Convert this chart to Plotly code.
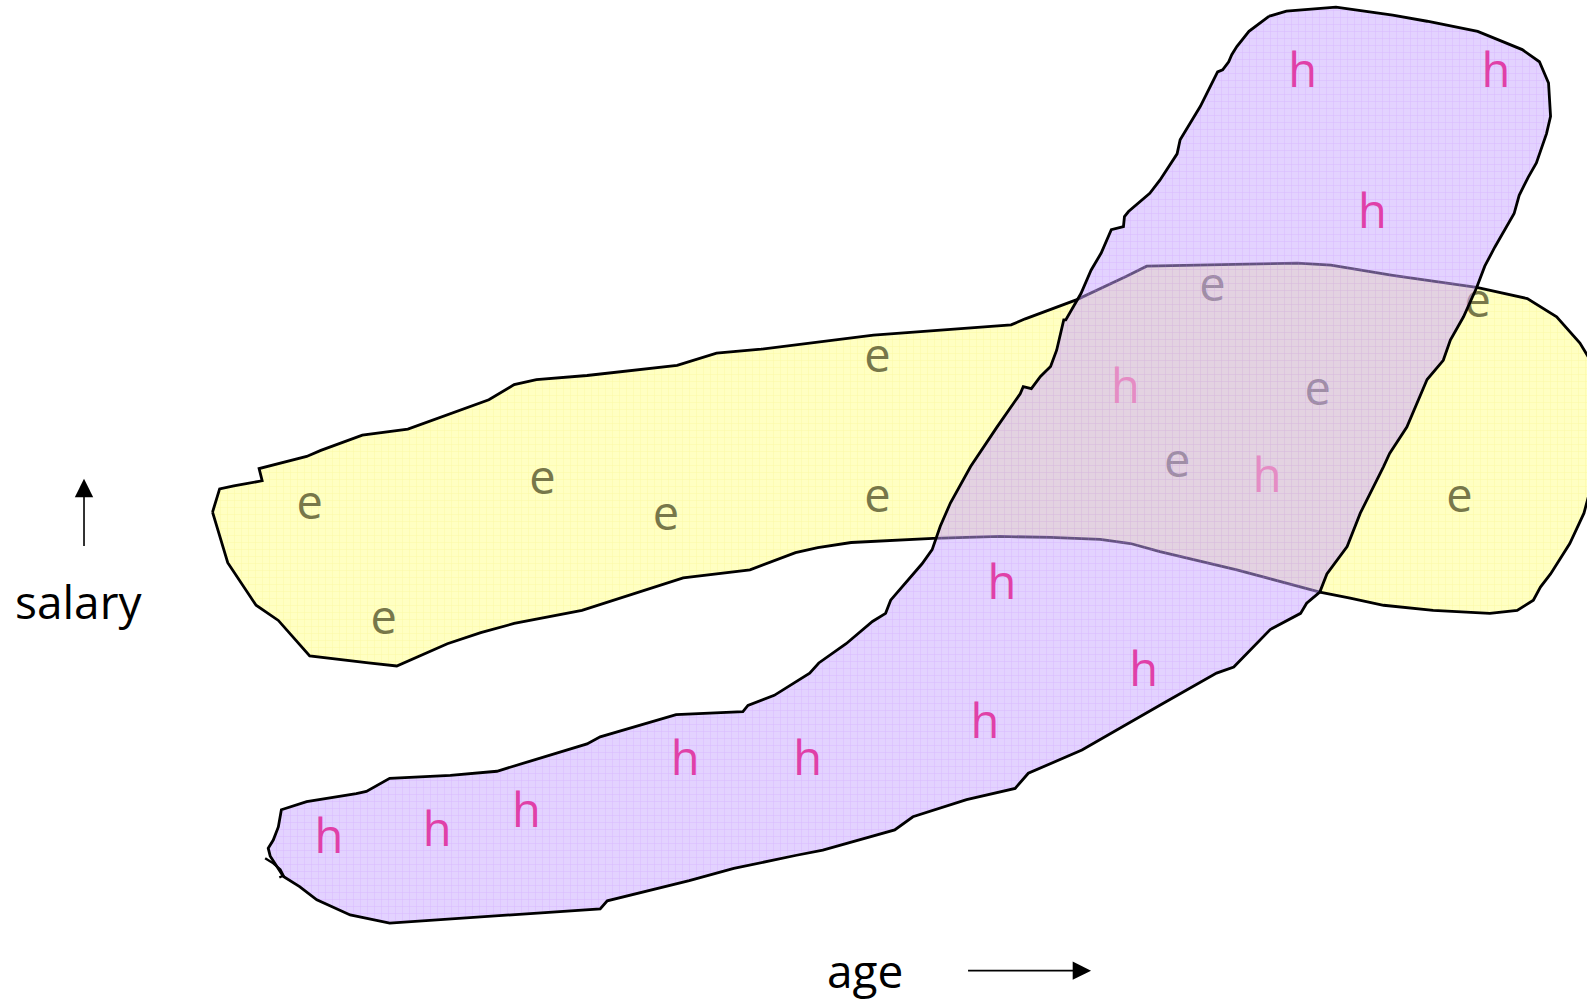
import plotly.graph_objects as go

# ---- data (coordinates in the chart's own age / salary units) ----
e_region_x = [210, 217, 231, 259, 256, 303, 317, 358, 403, 483, 508, 530, 580, 669, 708, 752, 863, 999, 1013, 1064,
              1113, 1133, 1282, 1315, 1376, 1459, 1509, 1538, 1561, 1575, 1575, 1565, 1551, 1532, 1522, 1515, 1499,
              1472, 1416, 1367, 1334, 1304, 1222, 1146, 1117, 1087, 1038, 988, 922, 841, 808, 786, 741, 697, 675,
              575, 508, 475, 442, 392, 364, 306, 275, 253, 225, 210]
e_region_y = [506, 483, 480, 475, 463, 451, 445, 430, 424, 395, 380, 375, 371, 361, 349, 345, 331, 321, 315, 296,
              273, 263, 260, 262, 272, 284, 295, 313, 339, 362, 470, 507, 537, 567, 580, 593, 603,
              606, 603, 598, 591, 585, 563, 545, 537, 533, 531, 530, 532, 536, 541, 546, 563, 568, 571,
              603, 616, 625, 636, 658, 655, 648, 613, 598, 556, 506]

h_region_x = [1254, 1271, 1320, 1376, 1410, 1460, 1504, 1521, 1530, 1532, 1528, 1518, 1510, 1501, 1496, 1477, 1467,
              1459, 1446, 1433, 1426, 1410, 1390, 1373, 1367, 1344, 1331, 1311, 1304, 1291, 1285, 1255, 1219, 1202,
              1149, 1091, 1069, 1016, 1003, 955, 902, 884, 813, 787, 725, 681, 600, 593, 478, 385, 346, 313, 296,
              280, 267, 265, 270, 275, 278, 303, 352, 362, 385, 445, 491, 527, 580, 593, 668, 734, 739, 765, 800,
              809, 836, 862, 875, 880, 897, 911, 921, 929, 939, 959, 985, 1008, 1011, 1019, 1028, 1038, 1044, 1051,
              1053, 1068, 1078, 1088, 1098, 1110, 1111, 1115, 1136, 1146, 1163, 1166, 1186, 1203, 1208, 1214, 1217,
              1222, 1234, 1254]
h_region_y = [16, 11, 7, 15, 21, 31, 49, 61, 82, 115, 132, 161, 175, 193, 211, 244, 263,
              284, 313, 336, 356, 375, 422, 448, 461, 507, 540, 567, 585, 596, 606, 622, 659, 665,
              695, 728, 741, 764, 779, 790, 807, 820, 840, 845, 858, 870, 890, 898, 906, 912, 904, 889, 876,
              866, 846, 838, 830, 817, 800, 792, 784, 782, 769, 766, 762, 751, 735, 728, 706, 703, 697, 687, 665,
              655, 636, 614, 606, 593, 573, 557, 543, 520, 497, 461, 422, 389, 382, 384, 372, 362, 346, 316,
              316, 290, 267, 250, 227, 224, 214, 209, 191, 178, 152, 138, 105, 71, 69, 61, 54,
              46, 31, 16]

curl_x = [262, 270, 277, 280, 276]
curl_y = [848, 853, 859, 865, 867]

e_x = [306, 536, 658, 867, 867, 379, 1198, 1302, 1163, 1460, 1442]
e_y = [501, 476, 512, 356, 494, 615, 286, 389, 460, 302, 494]
e_labels = ["e"] * len(e_x)

h_x = [1287, 1478, 1356, 990, 1130, 973, 677, 798, 325, 432, 520]
h_y = [74, 74, 214, 580, 666, 718, 754, 754, 831, 824, 805]
h_labels = ["h"] * len(h_x)
h_overlap_x = [1112, 1252]
h_overlap_y = [387, 474]
h_overlap_labels = ["h", "h"]

axis_labels = ["salary", "age"]

FONT = "Open Sans"
W, H = 1568, 989

fig = go.Figure()

# yellow "e" region
fig.add_trace(go.Scatter(
    x=e_region_x, y=e_region_y, mode="lines", fill="toself",
    fillcolor="rgb(255,255,194)",
    fillpattern=dict(shape="+", size=7, solidity=0.16,
                     fgcolor="rgba(245,236,110,0.6)", bgcolor="rgb(255,255,194)"),
    line=dict(color="black", width=2.8), hoverinfo="skip"))

# e letters (under the purple region so they dim in the overlap)
fig.add_trace(go.Scatter(
    x=e_x, y=e_y, mode="text", text=e_labels,
    textfont=dict(family=FONT, size=47, color="#77774A"), hoverinfo="skip"))

# purple "h" region
fig.add_trace(go.Scatter(
    x=h_region_x, y=h_region_y, mode="lines", fill="toself",
    fillcolor="rgba(200,165,255,0.5)",
    fillpattern=dict(shape="+", size=7, solidity=0.16,
                     fgcolor="rgba(190,120,255,0.5)", bgcolor="rgba(200,165,255,0.5)"),
    line=dict(color="black", width=2.8), hoverinfo="skip"))

fig.add_trace(go.Scatter(
    x=curl_x, y=curl_y, mode="lines", line=dict(color="black", width=2.4), hoverinfo="skip"))

# h letters
fig.add_trace(go.Scatter(
    x=h_x, y=h_y, mode="text", text=h_labels,
    textfont=dict(family=FONT, size=47, color="#E040A8"), hoverinfo="skip"))
fig.add_trace(go.Scatter(
    x=h_overlap_x, y=h_overlap_y, mode="text", text=h_overlap_labels,
    textfont=dict(family=FONT, size=47, color="#E58CC4"), hoverinfo="skip"))

# axis labels and arrows
fig.add_annotation(x=78, y=594, text=axis_labels[0], showarrow=False,
                   font=dict(family=FONT, size=46, color="black"))
fig.add_annotation(x=855, y=958, text=axis_labels[1], showarrow=False,
                   font=dict(family=FONT, size=46, color="black"))
fig.add_annotation(x=83, y=473, ax=83, ay=541, axref="x", ayref="y", xref="x", yref="y",
                   text="", showarrow=True, arrowhead=2, arrowsize=2.3, arrowwidth=1.6, arrowcolor="black")
fig.add_annotation(x=1078, y=959, ax=955, ay=959, axref="x", ayref="y", xref="x", yref="y",
                   text="", showarrow=True, arrowhead=2, arrowsize=2.3, arrowwidth=1.6, arrowcolor="black")

fig.update_xaxes(range=[0, W], visible=False, showgrid=False, zeroline=False, fixedrange=True)
fig.update_yaxes(range=[H, 0], visible=False, showgrid=False, zeroline=False, fixedrange=True)
fig.update_layout(width=1587, height=1001, margin=dict(l=0, r=0, t=0, b=0),
                  paper_bgcolor="white", plot_bgcolor="white", showlegend=False)

fig.write_html("out.html", config={"displayModeBar": False},
               post_script="document.body.style.margin='0';document.body.style.overflow='hidden';")
